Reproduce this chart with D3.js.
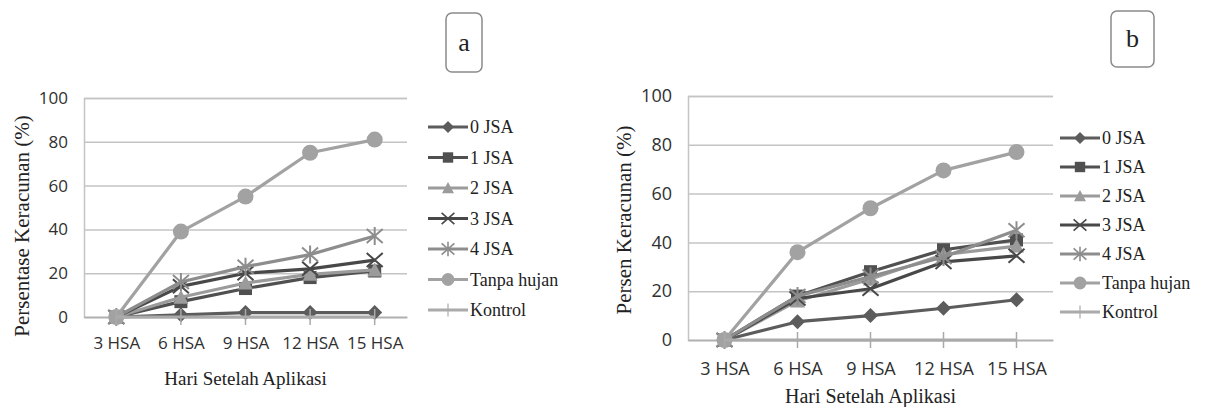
<!DOCTYPE html>
<html>
<head>
<meta charset="utf-8">
<title>Persentase Keracunan</title>
<script src="https://d3js.org/d3.v7.min.js"></script>
<style>
  body { margin: 0; background: #fff; }
</style>
</head>
<body>
<div id="chart"></div>
<script>
let categories = ["3 HSA", "6 HSA", "9 HSA", "12 HSA", "15 HSA"];
let seriesNames = ["0 JSA", "1 JSA", "2 JSA", "3 JSA", "4 JSA", "Tanpa hujan", "Kontrol"];
let yTicks = [0, 20, 40, 60, 80, 100];

// grafik a
let a0JSA = [0, 1, 2, 2, 2];
let a1JSA = [0, 7, 13, 18, 21];
let a2JSA = [0, 9, 15.5, 19.5, 21.5];
let a3JSA = [0, 14, 20, 22, 26];
let a4JSA = [0, 16, 23, 28.5, 37];
let aTanpaHujan = [0, 39, 55, 75, 81];
let aKontrol = [0, 0, 0, 0, 0];

// grafik b
let b0JSA = [0, 7.5, 10, 13, 16.5];
let b1JSA = [0, 18, 28, 37, 41];
let b2JSA = [0, 16, 25, 35, 38.5];
let b3JSA = [0, 17, 21, 32, 34.5];
let b4JSA = [0, 18, 26, 34, 45];
let bTanpaHujan = [0, 36, 54, 69.5, 77];
let bKontrol = [0, 0, 0, 0, 0];

let colors = ["#5c5c5c", "#505050", "#9b9b9b", "#484848", "#8d8d8d", "#a2a2a2", "#aaaaaa"];
let shapes = ["diamond", "square", "triangle", "cross", "star", "circle", "plus"];

let W = 1206, H = 407;
let svg = d3.select("#chart").append("svg")
    .attr("width", W)
    .attr("height", H);

function marker(g, shape, color, k) {
    if (shape == "diamond") {
        g.append("path").attr("d", "M0,-7.5L7.5,0L0,7.5L-7.5,0Z").attr("fill", color)
            .attr("transform", "scale(" + k + ")");
    } else if (shape == "square") {
        g.append("rect").attr("x", -6.5 * k).attr("y", -6.5 * k)
            .attr("width", 13 * k).attr("height", 13 * k).attr("fill", color);
    } else if (shape == "triangle") {
        g.append("path").attr("d", "M0,-7.5L7.5,6.5L-7.5,6.5Z").attr("fill", color)
            .attr("transform", "scale(" + k + ")");
    } else if (shape == "cross") {
        g.append("path").attr("d", "M-8,-7L8,7M-8,7L8,-7")
            .attr("stroke", color).attr("stroke-width", 2).attr("fill", "none")
            .attr("transform", "scale(" + k + ")");
    } else if (shape == "star") {
        g.append("path").attr("d", "M-8,-7L8,7M-8,7L8,-7M0,-9V9")
            .attr("stroke", color).attr("stroke-width", 2).attr("fill", "none")
            .attr("transform", "scale(" + k + ")");
    } else if (shape == "circle") {
        g.append("circle").attr("r", 8 * k).attr("fill", color);
    } else if (shape == "plus") {
        g.append("path").attr("d", "M0,-8V8")
            .attr("stroke", color).attr("stroke-width", 1.5)
            .attr("transform", "scale(" + k + ")");
    }
}

function drawChart(c) {
    let x = d3.scalePoint()
        .domain(categories)
        .range([c.left, c.right])
        .padding(0.5);
    let y = d3.scaleLinear()
        .domain([0, 100])
        .range([c.bottom, c.top]);

    // grid + label sumbu y
    let gy = svg.append("g")
        .attr("transform", "translate(" + c.left + ",0)")
        .call(d3.axisLeft(y).tickValues(yTicks).tickSize(-(c.right - c.left)).tickPadding(16));
    gy.select(".domain").attr("stroke", "#c4c4c4").attr("stroke-width", 1.5);
    gy.selectAll(".tick line").attr("stroke", "#c4c4c4").attr("stroke-width", 1.5);
    gy.selectAll(".tick text")
        .attr("font-family", "Open Sans, sans-serif")
        .attr("font-size", c.tickSize + "px")
        .attr("fill", "#303030");

    // sumbu x
    let gx = svg.append("g")
        .attr("transform", "translate(0," + c.bottom + ")")
        .call(d3.axisBottom(x).tickSize(0).tickPadding(c.xPad));
    gx.select(".domain").attr("stroke", "#b0b0b0").attr("stroke-width", 1.5);
    gx.selectAll(".tick text")
        .attr("font-family", "Open Sans, sans-serif")
        .attr("font-size", c.tickSize + "px")
        .attr("fill", "#303030");

    let line = d3.line()
        .x(function(d, i) { return x(categories[i]); })
        .y(function(d) { return y(d); });

    c.series.forEach(function(vals, s) {
        svg.append("path")
            .datum(vals)
            .attr("d", line)
            .attr("fill", "none")
            .attr("stroke", colors[s])
            .attr("stroke-width", 3.2)
            .attr("stroke-linejoin", "round");
        vals.forEach(function(v, i) {
            let g = svg.append("g")
                .attr("transform", "translate(" + x(categories[i]) + "," + y(v) + ")");
            marker(g, shapes[s], colors[s], 1);
        });
    });

    // judul sumbu
    svg.append("text")
        .attr("x", (c.left + c.right) / 2 + c.xTitleDx)
        .attr("y", c.xTitleY)
        .attr("text-anchor", "middle")
        .attr("font-family", "Liberation Serif, Times New Roman, serif")
        .attr("font-size", c.xTitleSize + "px")
        .attr("fill", "#222")
        .text("Hari Setelah Aplikasi");
    svg.append("text")
        .attr("transform", "translate(" + c.yTitleX + "," + c.yTitleY + ") rotate(-90)")
        .attr("text-anchor", "middle")
        .attr("font-family", "Liberation Serif, Times New Roman, serif")
        .attr("font-size", c.yTitleSize + "px")
        .attr("fill", "#222")
        .text(c.yTitle);

    // legenda
    seriesNames.forEach(function(name, s) {
        let ly = c.legendY + s * c.legendStep;
        svg.append("line")
            .attr("x1", c.legendX).attr("x2", c.legendX + 40)
            .attr("y1", ly).attr("y2", ly)
            .attr("stroke", colors[s]).attr("stroke-width", 3.2);
        let g = svg.append("g").attr("transform", "translate(" + (c.legendX + 20) + "," + ly + ")");
        marker(g, shapes[s], colors[s], 0.8);
        svg.append("text")
            .attr("x", c.legendX + 42)
            .attr("y", ly + 6)
            .attr("font-family", "Liberation Serif, Times New Roman, serif")
            .attr("font-size", "18px")
            .attr("fill", "#222")
            .text(name);
    });

    // kotak huruf
    svg.append("rect")
        .attr("x", c.box[0]).attr("y", c.box[1])
        .attr("width", c.box[2]).attr("height", c.box[3])
        .attr("rx", 6)
        .attr("fill", "#fff")
        .attr("stroke", "#8a8a8a")
        .attr("stroke-width", 1.5);
    svg.append("text")
        .attr("x", c.box[0] + c.box[2] / 2)
        .attr("y", c.box[1] + c.box[3] / 2 + 8)
        .attr("text-anchor", "middle")
        .attr("font-family", "Liberation Serif, Times New Roman, serif")
        .attr("font-size", "26px")
        .attr("fill", "#222")
        .text(c.label);
}

drawChart({
    left: 84, right: 407, top: 98, bottom: 317,
    series: [a0JSA, a1JSA, a2JSA, a3JSA, a4JSA, aTanpaHujan, aKontrol],
    tickSize: 17, xPad: 20,
    xTitleY: 385, xTitleDx: 0, xTitleSize: 19,
    yTitle: "Persentase Keracunan (%)", yTitleX: 29, yTitleY: 226, yTitleSize: 21,
    legendX: 428, legendY: 127, legendStep: 30.5,
    box: [446, 13, 36, 59], label: "a"
});

drawChart({
    left: 688, right: 1053, top: 96, bottom: 340,
    series: [b0JSA, b1JSA, b2JSA, b3JSA, b4JSA, bTanpaHujan, bKontrol],
    tickSize: 18, xPad: 22,
    xTitleY: 403, xTitleDx: 0, xTitleSize: 20,
    yTitle: "Persen Keracunan (%)", yTitleX: 631, yTitleY: 220, yTitleSize: 21,
    legendX: 1060, legendY: 138, legendStep: 29,
    box: [1111, 11, 43, 56], label: "b"
});
</script>
</body>
</html>
